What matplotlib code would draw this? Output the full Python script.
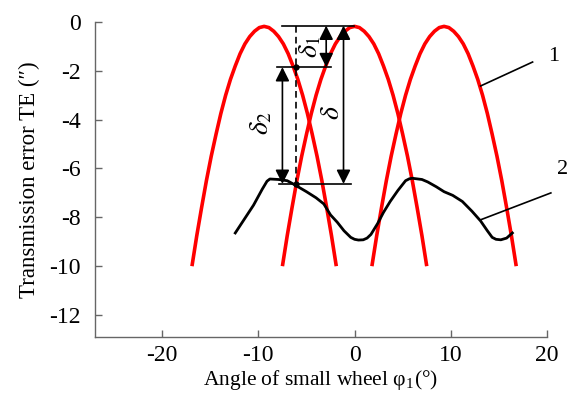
import matplotlib
matplotlib.use("Agg")
import matplotlib.pyplot as plt
import numpy as np

plt.rcParams['font.family'] = ['Liberation Serif', 'DejaVu Serif']
plt.rcParams['mathtext.fontset'] = 'stix'

# Red curves (1): tooth-pair transmission error profiles
red_centers = [-9.4, 0.0, 9.3]
red_offsets = [-7.5, -7.0, -6.5, -6.0, -5.5, -5.0, -4.5, -4.0, -3.5, -3.0, -2.5, -2.0, -1.5, -1.0, -0.5,
               0.0, 0.5, 1.0, 1.5, 2.0, 2.5, 3.0, 3.5, 4.0, 4.5, 5.0, 5.5, 6.0, 6.5, 7.0, 7.5]
red_profile = [-10.0, -8.75, -7.6, -6.5, -5.5, -4.6, -3.75, -3.0, -2.35, -1.8, -1.3, -0.9, -0.6, -0.38, -0.23,
               -0.18, -0.23, -0.38, -0.6, -0.9, -1.3, -1.8, -2.35, -3.0, -3.75, -4.6, -5.5, -6.5, -7.6, -8.75, -10.0]

# Black curve (2): composite transmission error
blk_x = [-12.4, -11.5, -10.5, -9.6, -9.1, -8.8, -7.9, -7.0, -6.3, -5.0, -4.0, -3.2, -2.5, -1.8, -1.1, -0.4, 0.0, 0.4,
         0.9, 1.3, 1.7, 2.4, 3.0, 3.7, 4.5, 5.3, 5.7, 6.0, 7.0, 7.6, 8.5, 9.3, 10.2, 11.2, 12.2, 13.1, 13.8, 14.3, 14.7,
         15.2, 15.8, 16.4]
blk_y = [-8.64, -8.1, -7.5, -6.85, -6.52, -6.43, -6.45, -6.5, -6.65, -6.95, -7.2, -7.45, -7.9, -8.2, -8.55, -8.82, -8.9, -8.93,
         -8.92, -8.85, -8.7, -8.25, -7.8, -7.35, -6.9, -6.5, -6.42, -6.4, -6.45, -6.55, -6.75, -6.95, -7.1, -7.35, -7.75, -8.15, -8.55, -8.82, -8.9,
         -8.92, -8.85, -8.64]

x_ticks = [-20, -10, 0, 10, 20]
y_ticks = [0, -2, -4, -6, -8, -10, -12]

# annotation levels
lvl_top = -0.15
lvl_mid = -1.85
lvl_bot = -6.63
x_dash = -6.1

fig = plt.figure(figsize=(5.71, 4.07), dpi=100)
ax = fig.add_axes([0.166, 0.172, 0.792, 0.774])

for c in red_centers:
    ax.plot([c + o for o in red_offsets], red_profile, color='#ff0000', lw=2.6, solid_capstyle='butt',
            solid_joinstyle='round')

ax.plot(blk_x, blk_y, color='black', lw=2.0, solid_joinstyle='round')

# horizontal reference lines
ax.plot([-7.5, -0.1], [lvl_top, lvl_top], color='black', lw=1.2)
ax.plot([-8.1, -2.4], [lvl_mid, lvl_mid], color='black', lw=1.2)
ax.plot([-7.9, -0.4], [lvl_bot, lvl_bot], color='black', lw=1.2)
# dashed vertical
ax.plot([x_dash, x_dash], [lvl_top, lvl_bot], color='black', lw=1.2, ls=(0, (4, 2.5)))
ax.plot([x_dash, x_dash], [lvl_mid, lvl_bot], 'o', color='black', ms=3.5)

def dbl_arrow(x, y0, y1):
    ax.annotate('', xy=(x, y0), xytext=(x, y1),
                arrowprops=dict(arrowstyle='<|-|>', color='black', lw=1.2,
                                mutation_scale=21, shrinkA=0, shrinkB=0))

dbl_arrow(-2.95, lvl_top, lvl_mid)
dbl_arrow(-1.15, lvl_top, lvl_bot)
dbl_arrow(-7.5, lvl_mid, lvl_bot)

ax.text(-4.55, -1.0, r'$\delta_1$', rotation=90, fontsize=20, ha='center', va='center')
ax.text(-2.25, -3.7, r'$\delta$', rotation=90, fontsize=20, ha='center', va='center')
ax.text(-9.7, -4.15, r'$\delta_2$', rotation=90, fontsize=20, ha='center', va='center')

# leader lines and labels
ax.plot([13.1, 18.5], [-2.62, -1.64], color='black', lw=1.2, clip_on=False)
ax.text(20.1, -1.4, '1', fontsize=16, ha='left', va='center', clip_on=False)
ax.plot([13.1, 20.4], [-8.1, -7.0], color='black', lw=1.2, clip_on=False)
ax.text(21.0, -6.05, '2', fontsize=16, ha='left', va='center', clip_on=False)

ax.set_xlim(-27, 20)
ax.set_ylim(-12.9, 0)
ax.set_xticks(x_ticks)
ax.set_xticklabels([str(v) for v in x_ticks])
ax.set_yticks(y_ticks)
ax.set_yticklabels([str(v) for v in y_ticks])

for s in ['top', 'right']:
    ax.spines[s].set_visible(False)
for s in ['left', 'bottom']:
    ax.spines[s].set_color('#666666')
    ax.spines[s].set_linewidth(1.0)
ax.tick_params(direction='in', length=5, width=1.0, color='#666666', labelsize=17)
ax.tick_params(axis='y', pad=10)
ax.tick_params(axis='x', pad=6)

ax.set_xlabel('Angle of small wheel φ$_\\mathregular{1}$(°)', fontsize=15.5, labelpad=1)
ax.set_ylabel('Transmission error TE (″)', fontsize=16.5, labelpad=7)

fig.savefig('out.png', dpi=100)
